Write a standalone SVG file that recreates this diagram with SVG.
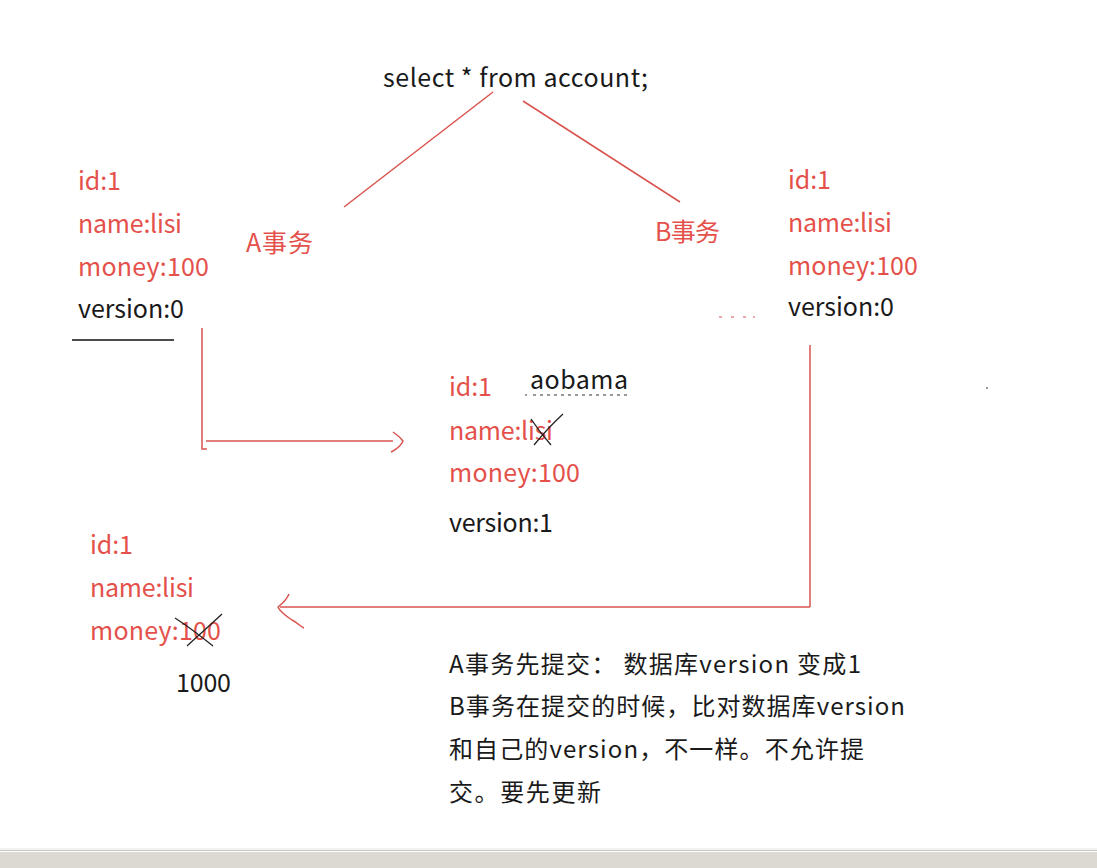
<svg xmlns="http://www.w3.org/2000/svg" width="1097" height="868" viewBox="0 0 1097 868">
<style>
text{font-family:"Noto Sans CJK SC","Liberation Sans",sans-serif;font-size:25px}
.r{fill:#e4514b}
.k{fill:#1a1a1a}
.n{font-size:24px}
.ln{stroke:#d9534f;stroke-width:1.5;fill:none}
.sq{stroke:#d9534f;stroke-width:1.5;fill:none;stroke-linejoin:round}
.x{stroke:#222;stroke-width:1.3;fill:none}
</style>
<rect width="1097" height="868" fill="#fff"/>
<g id="query"><text class="k" x="383" y="87" font-size="26" textLength="265">select * from account;</text></g>
<g id="labelA"><text class="r" x="246" y="252" font-size="23" textLength="67">A事务</text></g>
<g id="labelB"><text class="r" x="655" y="241" font-size="23" textLength="65">B事务</text></g>
<g id="rowA">
<text class="r" x="78" y="190" textLength="43">id:1</text>
<text class="r" x="78" y="233" textLength="104">name:lisi</text>
<text class="r" x="78" y="276" textLength="131">money:100</text>
<text class="k" x="78" y="318" textLength="106">version:0</text>
<line x1="72" y1="340" x2="174" y2="340" stroke="#111" stroke-width="1.5"/>
</g>
<g id="rowB">
<text class="r" x="788" y="189" textLength="43">id:1</text>
<text class="r" x="788" y="232" textLength="104">name:lisi</text>
<text class="r" x="788" y="275" textLength="130">money:100</text>
<text class="k" x="788" y="316" textLength="106">version:0</text>
<path d="M719 317h3M731 317h3M743 317h3M753 317h2" stroke="#d9534f" stroke-width="1.2"/>
</g>
<g id="rowMid">
<text class="r" x="449" y="396" textLength="43">id:1</text>
<text class="k" x="530" y="389" textLength="98">aobama</text>
<path d="M525 395h2M533 395h96" stroke="#333" stroke-width="1" stroke-dasharray="3 4"/>
<text class="r" x="449" y="440" textLength="104">name:lisi</text>
<path class="x" d="M531 419 C537 428 543 436 551 445 M534 445 C543 434 552 424 563 414"/>
<text class="r" x="449" y="482" textLength="131">money:100</text>
<text class="k" x="449" y="532" textLength="104">version:1</text>
</g>
<g id="rowC">
<text class="r" x="90" y="554" textLength="43">id:1</text>
<text class="r" x="90" y="597" textLength="104">name:lisi</text>
<text class="r" x="90" y="640" textLength="131">money:100</text>
<path class="x" d="M175 618 C186 625 198 634 213 646 M187 646 C198 636 208 627 222 614"/>
<text class="k" x="176" y="692" textLength="55">1000</text>
</g>
<g id="note">
<text class="k n" x="449" y="673" textLength="412">A事务先提交： 数据库version 变成1</text>
<text class="k n" x="449" y="715" textLength="456">B事务在提交的时候，比对数据库version</text>
<text class="k n" x="449" y="758" textLength="415">和自己的version，不一样。不允许提</text>
<text class="k n" x="449" y="801" textLength="152">交。要先更新</text>
</g>
<g id="connectors">
<line class="ln" x1="493" y1="92" x2="344" y2="207"/>
<line class="ln" x1="523" y1="101" x2="680" y2="202"/>
<path class="ln" d="M202 328 V449 H207"/>
<line class="ln" x1="206" y1="441" x2="393" y2="441"/>
<path class="sq" d="M393 432 C396 434 400 437 403 441 C401 446 398 448 393 451 L391 452"/>
<path class="ln" d="M810 345 V607"/>
<line class="ln" x1="810" y1="607" x2="280" y2="607"/>
<path class="sq" d="M289 594 C287 599 283 603 278 607 C280 612 286 616 292 620 C298 623 301 627 304 628"/>
</g>
<rect x="986" y="387" width="2" height="2" fill="#999"/>
<g id="statusbar">
<line x1="0" y1="849" x2="1097" y2="849" stroke="#e6e6e6" stroke-width="1"/>
<line x1="0" y1="850.5" x2="1097" y2="850.5" stroke="#c8c6c0" stroke-width="1"/>
<rect x="0" y="852" width="1097" height="16" fill="#dcd9d2"/>
</g>
</svg>
